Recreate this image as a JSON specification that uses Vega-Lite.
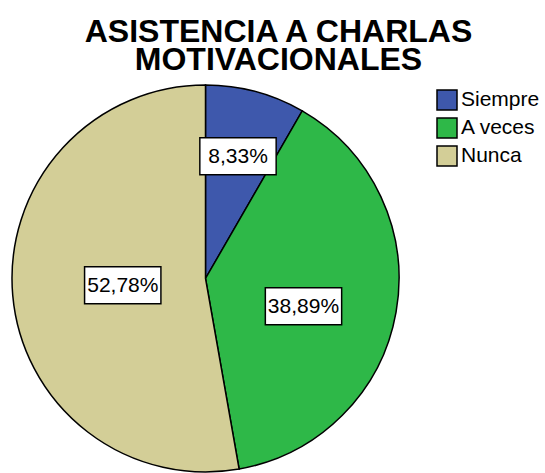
{
  "$schema": "https://vega.github.io/schema/vega-lite/v6.json",
  "width": 387,
  "height": 387,
  "autosize": {"type": "none"},
  "padding": {"left": 12, "top": 85, "right": 146, "bottom": 1},
  "background": "white",
  "title": {
    "text": ["ASISTENCIA A CHARLAS", "MOTIVACIONALES"],
    "font": "Liberation Sans",
    "fontSize": 32,
    "fontWeight": "bold",
    "color": "black",
    "anchor": "middle",
    "dx": 73,
    "lineHeight": 28,
    "offset": 5
  },
  "config": {
    "view": {"stroke": null},
    "locale": {"number": {"decimal": ",", "thousands": ".", "grouping": [3], "currency": ["", " €"]}}
  },
  "data": {
    "values": [
      {"respuesta": "Siempre", "orden": 1, "frecuencia": 3, "porcentaje": 0.0833},
      {"respuesta": "A veces", "orden": 2, "frecuencia": 14, "porcentaje": 0.3889},
      {"respuesta": "Nunca", "orden": 3, "frecuencia": 19, "porcentaje": 0.5278}
    ]
  },
  "encoding": {
    "theta": {"field": "porcentaje", "type": "quantitative", "stack": true},
    "order": {"field": "orden", "type": "quantitative"},
    "radius": {"field": "porcentaje", "type": "quantitative", "scale": {"type": "linear", "zero": false, "domain": [0.0833, 0.5278], "range": [126, 83]}}
  },
  "layer": [
    {
      "mark": {"type": "arc", "stroke": "black", "strokeWidth": 1.5},
      "encoding": {
        "radius": null,
        "color": {
          "field": "respuesta",
          "type": "nominal",
          "scale": {"domain": ["Siempre", "A veces", "Nunca"], "range": ["#3E58AC", "#2EB848", "#D3CE97"]},
          "legend": {
            "title": null,
            "orient": "none",
            "legendX": 424,
            "legendY": 4,
            "symbolType": "square",
            "symbolSize": 400,
            "symbolStrokeColor": "black",
            "symbolStrokeWidth": 1.5,
            "symbolOpacity": 1,
            "labelFont": "Liberation Sans",
            "labelFontSize": 21,
            "labelColor": "black",
            "labelOffset": 3,
            "rowPadding": 2,
            "labelLimit": 0
          }
        }
      }
    },
    {
      "mark": {"type": "text", "font": "DejaVu Sans", "fontSize": 100, "fill": "white", "stroke": "black", "strokeWidth": 1.5, "baseline": "middle", "align": "center", "dy": -5},
      "encoding": {
        "text": {"condition": {"test": "datum.respuesta === 'A veces'", "value": ""}, "value": "▬"}
      }
    },
    {
      "mark": {"type": "text", "font": "Liberation Sans", "fontSize": 21, "fill": "black", "baseline": "middle", "align": "center"},
      "encoding": {
        "text": {"condition": {"test": "datum.respuesta === 'A veces'", "value": ""}, "field": "porcentaje", "type": "quantitative", "format": ".2%"}
      }
    },
    {
      "mark": {"type": "text", "font": "DejaVu Sans", "fontSize": 100, "fill": "white", "stroke": "black", "strokeWidth": 1.5, "baseline": "middle", "align": "center", "dx": 3, "dy": 7},
      "encoding": {
        "text": {"condition": {"test": "datum.respuesta === 'A veces'", "value": "▬"}, "value": ""}
      }
    },
    {
      "mark": {"type": "text", "font": "Liberation Sans", "fontSize": 21, "fill": "black", "baseline": "middle", "align": "center", "dx": 3, "dy": 12},
      "encoding": {
        "text": {"condition": {"test": "datum.respuesta !== 'A veces'", "value": ""}, "field": "porcentaje", "type": "quantitative", "format": ".2%"}
      }
    }
  ]
}
